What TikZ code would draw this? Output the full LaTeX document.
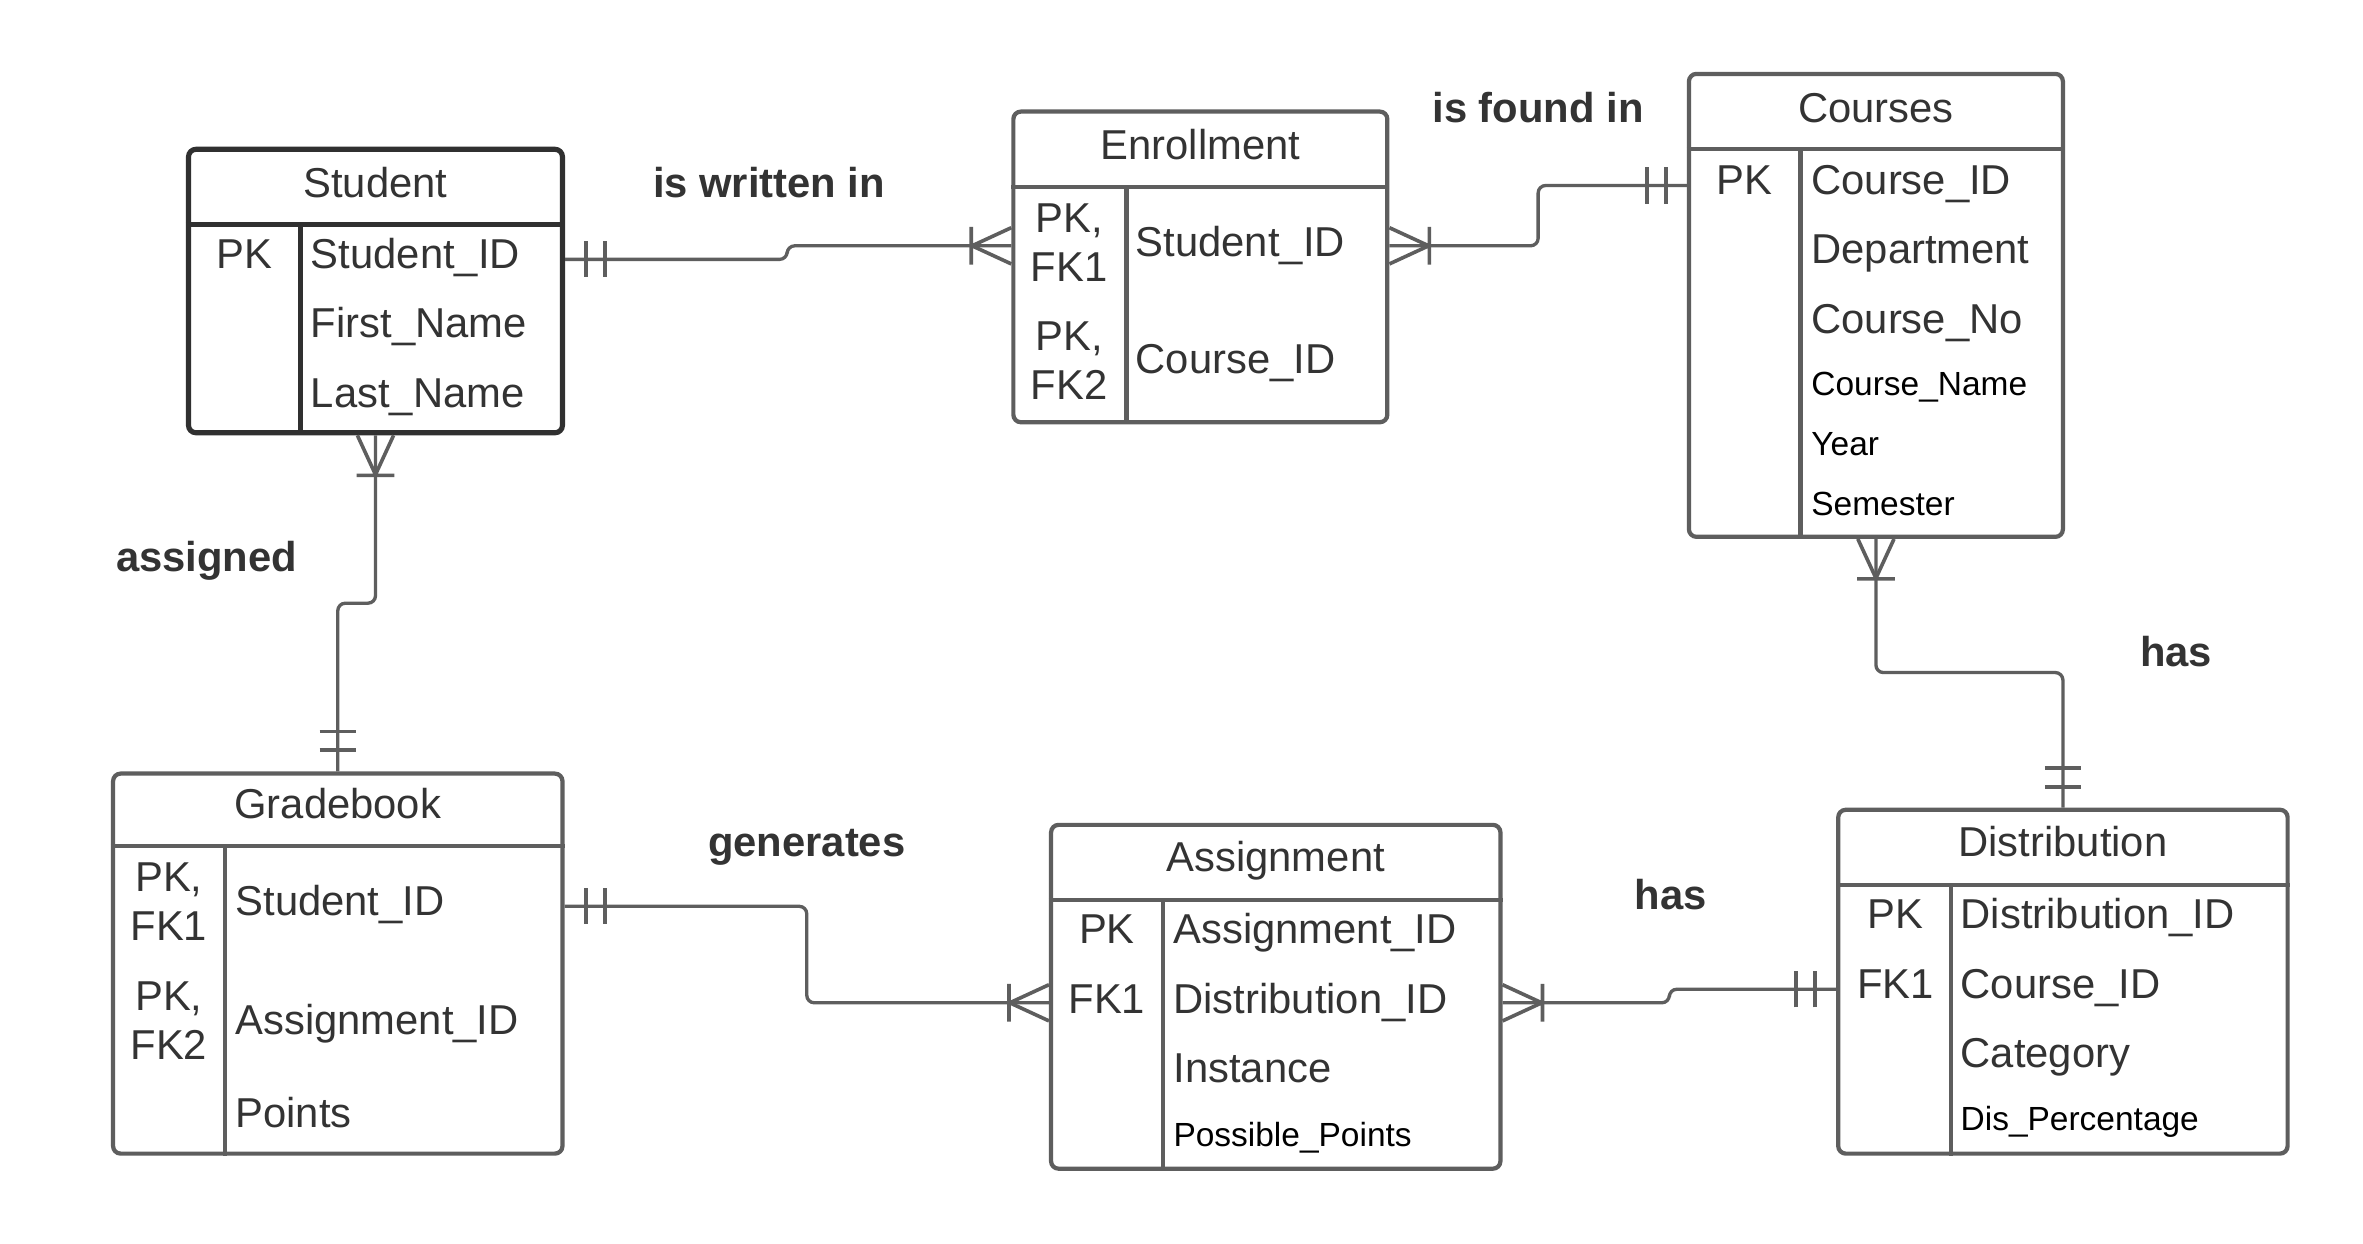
\documentclass[tikz,border=0pt]{standalone}
\usepackage{fontspec}
\setmainfont{Liberation Sans}
\definecolor{boxc}{HTML}{5E5E5E}
\definecolor{darkc}{HTML}{303030}
\definecolor{txtc}{HTML}{333333}
\definecolor{linec}{HTML}{5E5E5E}
\newcommand\bigf{\fontsize{27.7}{32.3}\selectfont}
\newcommand\smallf{\fontsize{22.2}{26}\selectfont}
\tikzset{
 ent/.style={draw=boxc, line width=2.8pt, rounded corners=5pt, inner sep=0pt, fill=white},
 div/.style={draw=boxc, line width=2.8pt},
 ttl/.style={font=\bigf, text=txtc, inner sep=0pt, text height=19.9pt, text depth=0pt, anchor=center},
 attr/.style={font=\bigf, text=txtc, inner sep=0pt, text height=19.9pt, text depth=0pt, anchor=west},
 sattr/.style={font=\smallf, text=black, inner sep=0pt, text height=16pt, text depth=0pt, anchor=west},
 keyone/.style={font=\bigf, text=txtc, inner sep=0pt, text height=19.9pt, text depth=0pt, anchor=center},
 keytwo/.style={font=\bigf, text=txtc, inner sep=0pt, anchor=center, align=center},
 rel/.style={font=\bigf\bfseries, text=txtc, inner sep=0pt, text height=19.9pt, text depth=0pt, anchor=center},
 conn/.style={draw=linec, line width=2.2pt, rounded corners=5pt},
 manyend/.pic={\draw[draw=linec, line width=2.4pt, line join=round] (0,-12) -- (26,0) -- (0,12) (26.5,-12.5) -- (26.5,12.5);},
 oneend/.pic={\draw[draw=linec, line width=2.6pt] (14,-12) -- (14,12) (26.5,-12) -- (26.5,12);}
}
\begin{document}
\begin{tikzpicture}[x=1pt,y=-1pt]
\useasboundingbox[fill=white] (0,0) rectangle (1567,824.3);

% ---------- Student ----------
\node[ent, draw=darkc, line width=3.4pt, minimum width=248pt, minimum height=188pt] (student) at (249,193) {};
\draw[div, draw=darkc, line width=3.4pt] (student.west |- 0,149) -- (student.east |- 0,149);
\draw[div, draw=darkc, line width=3.4pt] (199,149) -- (student.south -| 199,0);
\node[ttl] (student-t) at (249,121) {Student};
\node[keyone] (student-k1) at (162,168) {PK};
\node[attr] (student-a1) at (206,168) {Student\_ID};
\node[attr] (student-a2) at (206,214) {First\_Name};
\node[attr] (student-a3) at (206,260) {Last\_Name};

% ---------- Enrollment ----------
\node[ent, minimum width=248pt, minimum height=206pt] (enroll) at (796,177) {};
\draw[div] (enroll.west |- 0,124) -- (enroll.east |- 0,124);
\draw[div] (747,124) -- (enroll.south -| 747,0);
\node[ttl] (enroll-t) at (796,96) {Enrollment};
\node[keytwo] (enroll-k1) at (709,161) {PK,\\FK1};
\node[attr] (enroll-a1) at (753,160) {Student\_ID};
\node[keytwo] (enroll-k2) at (709,239) {PK,\\FK2};
\node[attr] (enroll-a2) at (753,238) {Course\_ID};

% ---------- Courses ----------
\node[ent, minimum width=248pt, minimum height=307pt] (courses) at (1244,202.5) {};
\draw[div] (courses.west |- 0,99) -- (courses.east |- 0,99);
\draw[div] (1194,99) -- (courses.south -| 1194,0);
\node[ttl] (courses-t) at (1244,71) {Courses};
\node[keyone] (courses-k1) at (1157,119) {PK};
\node[attr] (courses-a1) at (1201,119) {Course\_ID};
\node[attr] (courses-a2) at (1201,165) {Department};
\node[attr] (courses-a3) at (1201,211) {Course\_No};
\node[sattr] (courses-a4) at (1201,254) {Course\_Name};
\node[sattr] (courses-a5) at (1201,294) {Year};
\node[sattr] (courses-a6) at (1201,334) {Semester};

% ---------- Gradebook ----------
\node[ent, minimum width=298pt, minimum height=252pt] (grade) at (224,639) {};
\draw[div] (grade.west |- 0,561) -- (grade.east |- 0,561);
\draw[div] (149,561) -- (grade.south -| 149,0);
\node[ttl] (grade-t) at (224,533) {Gradebook};
\node[keytwo] (grade-k1) at (112,598) {PK,\\FK1};
\node[attr] (grade-a1) at (156,597) {Student\_ID};
\node[keytwo] (grade-k2) at (112,677) {PK,\\FK2};
\node[attr] (grade-a2) at (156,676) {Assignment\_ID};
\node[attr] (grade-a3) at (156,738) {Points};

% ---------- Assignment ----------
\node[ent, minimum width=298pt, minimum height=228pt] (assign) at (846,661) {};
\draw[div] (assign.west |- 0,597) -- (assign.east |- 0,597);
\draw[div] (771,597) -- (assign.south -| 771,0);
\node[ttl] (assign-t) at (846,568) {Assignment};
\node[keyone] (assign-k1) at (734,616) {PK};
\node[attr] (assign-a1) at (778,616) {Assignment\_ID};
\node[keyone] (assign-k2) at (734,662) {FK1};
\node[attr] (assign-a2) at (778,662) {Distribution\_ID};
\node[attr] (assign-a3) at (778,708) {Instance};
\node[sattr] (assign-a4) at (778,752) {Possible\_Points};

% ---------- Distribution ----------
\node[ent, minimum width=298pt, minimum height=228pt] (dist) at (1368,651) {};
\draw[div] (dist.west |- 0,587) -- (dist.east |- 0,587);
\draw[div] (1294,587) -- (dist.south -| 1294,0);
\node[ttl] (dist-t) at (1368,558) {Distribution};
\node[keyone] (dist-k1) at (1257,606) {PK};
\node[attr] (dist-a1) at (1300,606) {Distribution\_ID};
\node[keyone] (dist-k2) at (1257,652) {FK1};
\node[attr] (dist-a2) at (1300,652) {Course\_ID};
\node[attr] (dist-a3) at (1300,698) {Category};
\node[sattr] (dist-a4) at (1300,742) {Dis\_Percentage};

% ---------- relationship labels ----------
\node[rel] (l1) at (510,121) {is written in};
\node[rel] (l2) at (1020,71) {is found in};
\node[rel] (l3) at (137,369) {assigned};
\node[rel] (l4) at (1443,432) {has};
\node[rel] (l5) at (535,558) {generates};
\node[rel] (l6) at (1108,593) {has};

% ---------- connectors ----------
% Student -> Enrollment
\draw[conn] (student.east |- 0,172) -| (522,163) -- (enroll.west |- 0,163);
\pic at (student.east |- 0,172) {oneend};
\pic[rotate=180] at (enroll.west |- 0,163) {manyend};
% Enrollment -> Courses
\draw[conn] (enroll.east |- 0,163) -| (1020,123) -- (courses.west |- 0,123);
\pic at (enroll.east |- 0,163) {manyend};
\pic[rotate=180] at (courses.west |- 0,123) {oneend};
% Student -> Gradebook
\draw[conn] (student.south) |- (224,400) -- (grade.north -| 224,0);
\pic[rotate=-90] at (student.south) {manyend};
\pic[rotate=90] at (grade.north -| 224,0) {oneend};
% Courses -> Distribution
\draw[conn] (courses.south) |- (1368,446) -- (dist.north);
\pic[rotate=-90] at (courses.south) {manyend};
\pic[rotate=90] at (dist.north) {oneend};
% Gradebook -> Assignment
\draw[conn] (grade.east |- 0,601) -| (535,665) -- (assign.west |- 0,665);
\pic at (grade.east |- 0,601) {oneend};
\pic[rotate=180] at (assign.west |- 0,665) {manyend};
% Assignment -> Distribution
\draw[conn] (assign.east |- 0,665) -| (1107,656) -- (dist.west |- 0,656);
\pic at (assign.east |- 0,665) {manyend};
\pic[rotate=180] at (dist.west |- 0,656) {oneend};
\end{tikzpicture}
\end{document}
